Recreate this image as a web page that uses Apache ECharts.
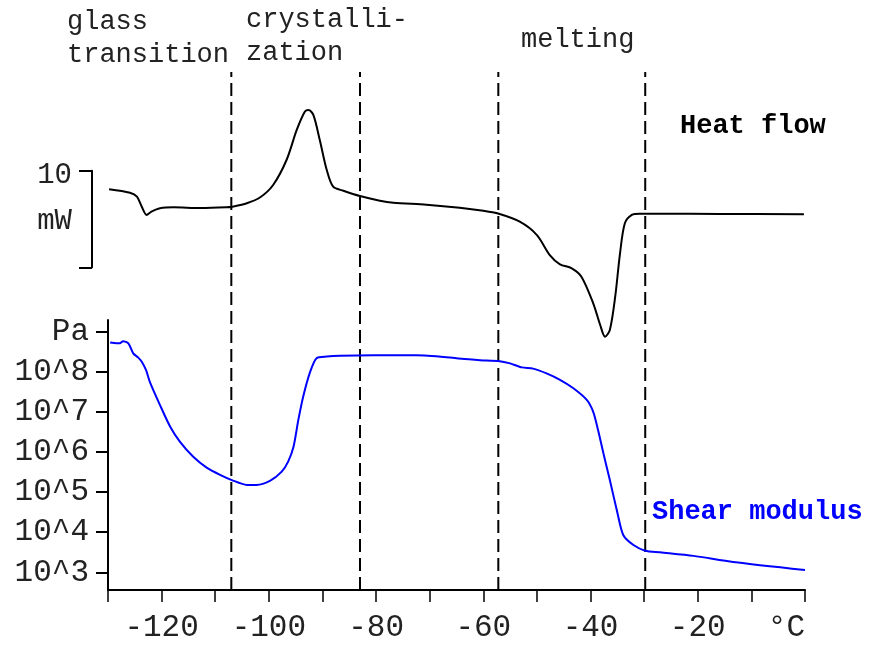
<!DOCTYPE html>
<html>
<head>
<meta charset="utf-8">
<script src="https://cdn.jsdelivr.net/npm/echarts@6/dist/echarts.min.js"></script>
<style>
  html, body { margin: 0; padding: 0; background: #fff; }
  #chart { width: 874px; height: 646px; }
</style>
</head>
<body>
<div id="chart"></div>
<script>
// Temperature (°C) of the DSC heat-flow trace and its values (mW, relative offset)
const heatFlowTemp = [-129.8, -125.9, -124.6, -123.7, -122.8, -121.9, -120.3, -117.8, -112.8, -107.9,
  -106.9, -104.1, -101.6, -99.2, -96.7, -94.8, -93.3, -92.6, -91.7, -90.5, -89.2, -88.0, -86.1,
  -83.0, -79.3, -76.8, -70.6, -64.4, -60.0, -57.4, -53.2, -50.0, -47.6, -45.7, -43.5, -41.7,
  -39.5, -38.2, -37.3, -36.4, -35.4, -34.5, -33.6, -32.3, -30.8, -27.0, -15.9, -0.2];
const heatFlowMW = [15.76, 15.40, 14.99, 13.95, 13.10, 13.44, 13.79, 13.89, 13.82, 13.89,
  13.95, 14.31, 14.93, 16.20, 18.79, 21.90, 23.79, 23.96, 23.45, 20.86, 17.75, 16.02, 15.61,
  15.06, 14.58, 14.37, 14.16, 13.85, 13.54, 13.27, 12.40, 11.02, 8.95, 7.99, 7.58, 6.71,
  3.95, 1.71, 0.50, 1.19, 4.64, 9.13, 12.24, 13.10, 13.23, 13.23, 13.20, 13.17];

// Shear modulus: temperature (°C) and log10 of modulus in Pa
const shearTemp = [-129.6, -128.4, -127.8, -127.2, -126.2, -125.3, -124.4, -123.7, -122.9, -122.2,
  -120.3, -118.4, -116.6, -114.1, -111.6, -109.1, -106.9, -104.1, -102.3, -99.8, -97.6, -96.4,
  -95.4, -94.5, -93.6, -92.3, -91.1, -89.2, -86.7, -80.5, -72.4, -65.0, -59.4, -57.2, -55.0,
  -52.8, -50.7, -48.2, -45.7, -43.2, -40.7, -39.5, -38.6, -37.6, -36.4, -35.1, -33.9, -32.0,
  -29.8, -27.0, -20.8, -13.4, 0];
const shearLog10Pa = [8.73, 8.71, 8.71, 8.76, 8.71, 8.46, 8.36, 8.25, 8.04, 7.75,
  7.17, 6.63, 6.26, 5.88, 5.61, 5.43, 5.30, 5.18, 5.18, 5.28, 5.51, 5.76,
  6.13, 6.80, 7.38, 8.00, 8.34, 8.38, 8.40, 8.41, 8.41, 8.34, 8.28, 8.27, 8.21,
  8.11, 8.08, 7.96, 7.80, 7.59, 7.30, 7.00, 6.55, 5.97, 5.30, 4.55, 3.93, 3.68,
  3.54, 3.50, 3.41, 3.26, 3.06];

// Transition boundaries (°C)
const transitionTemps = [-107.0, -83.0, -57.2, -29.8];

// Axis tick labels
const tempLabelValues = [-120, -100, -80, -60, -40, -20, 0];
const modulusDecades = [3, 4, 5, 6, 7, 8, 9];
const scaleBarMW = [0, 10];

const FONT = 'Liberation Mono';
const xMin = -130, xMax = 0;

const chart = echarts.init(document.getElementById('chart'), null, { renderer: 'canvas' });

function hiddenX(gridIndex) {
  return { type: 'value', gridIndex, min: xMin, max: xMax, show: false };
}

const option = {
  animation: false,
  backgroundColor: '#ffffff',
  grid: [
    { left: 108, right: 69, top: 320, bottom: 56 },        // shear modulus
    { left: 108, right: 69, top: 100, bottom: 304.5 },     // heat flow
    { left: 92, width: 10, top: 170.7, height: 96.6 },     // 10 mW scale bar
    { left: 108, right: 69, top: 72, bottom: 56 }          // transition markers
  ],
  xAxis: [
    {
      type: 'value', gridIndex: 0, min: xMin, max: xMax, interval: 10,
      splitLine: { show: false },
      axisLine: { show: true, onZero: false, lineStyle: { color: '#000', width: 2 } },
      axisTick: { length: 12, lineStyle: { color: '#000', width: 1.5 } },
      axisLabel: {
        customValues: tempLabelValues,
        formatter: v => (v === 0 ? '°C  ' : String(v)),
        fontFamily: FONT, fontSize: 31, color: '#222', margin: 22
      }
    },
    hiddenX(1), hiddenX(2), hiddenX(3)
  ],
  yAxis: [
    {
      type: 'value', gridIndex: 0, min: 2.559, max: 9.292,
      splitLine: { show: false },
      axisLine: { show: true, onZero: false, lineStyle: { color: '#000', width: 2 } },
      axisTick: { show: true, customValues: modulusDecades, length: 12, lineStyle: { color: '#000', width: 2 } },
      axisLabel: {
        customValues: modulusDecades,
        formatter: v => (v === 9 ? 'Pa' : '10^' + v),
        fontFamily: FONT, fontSize: 31, color: '#222', margin: 19
      }
    },
    { type: 'value', gridIndex: 1, min: 0, max: 25, show: false },
    {
      type: 'value', gridIndex: 2, min: 0, max: 10,
      splitLine: { show: false },
      axisLine: { show: true, onZero: false, lineStyle: { color: '#000', width: 2 } },
      axisTick: { show: true, customValues: scaleBarMW, length: 13, lineStyle: { color: '#000', width: 2 } },
      axisLabel: {
        customValues: [9.55, 4.74],
        formatter: v => (v > 7 ? '10' : 'mW'),
        fontFamily: FONT, fontSize: 29, color: '#222', margin: 20
      }
    },
    { type: 'value', gridIndex: 3, min: 0, max: 1, show: false }
  ],
  series: [
    ...transitionTemps.map(t => ({
      type: 'line', xAxisIndex: 3, yAxisIndex: 3, symbol: 'none', silent: true, z: 1,
      data: [[t, 0], [t, 1]],
      lineStyle: { color: '#000', width: 2, type: [13, 6] }
    })),
    {
      name: 'Heat flow', type: 'line', xAxisIndex: 1, yAxisIndex: 1, symbol: 'none',
      smooth: 0.3, z: 3,
      data: heatFlowTemp.map((t, i) => [t, heatFlowMW[i]]),
      lineStyle: { color: '#000', width: 2 }
    },
    {
      name: 'Shear modulus', type: 'line', xAxisIndex: 0, yAxisIndex: 0, symbol: 'none',
      smooth: 0.25, z: 3,
      data: shearTemp.map((t, i) => [t, shearLog10Pa[i]]),
      lineStyle: { color: '#0000ff', width: 2 }
    }
  ],
  graphic: [
    { type: 'text', left: 67, top: 8, style: { text: 'glass', font: '27px "Liberation Mono"', fill: '#222' } },
    { type: 'text', left: 67, top: 41, style: { text: 'transition', font: '27px "Liberation Mono"', fill: '#222' } },
    { type: 'text', left: 246, top: 6, style: { text: 'crystalli-', font: '27px "Liberation Mono"', fill: '#222' } },
    { type: 'text', left: 246, top: 39, style: { text: 'zation', font: '27px "Liberation Mono"', fill: '#222' } },
    { type: 'text', left: 521, top: 26, style: { text: 'melting', font: '27px "Liberation Mono"', fill: '#222' } },
    { type: 'text', left: 680, top: 113, style: { text: 'Heat flow', font: 'bold 27px "Liberation Mono"', fill: '#000' } },
    { type: 'text', left: 652, top: 499, style: { text: 'Shear modulus', font: 'bold 27px "Liberation Mono"', fill: '#0000ff' } }
  ]
};

chart.setOption(option);
</script>
</body>
</html>
